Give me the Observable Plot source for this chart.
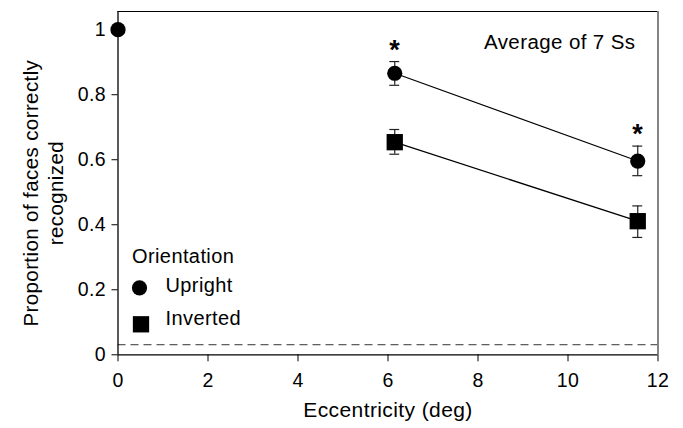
<!DOCTYPE html>
<html>
<head>
<meta charset="utf-8">
<script src="https://cdn.jsdelivr.net/npm/d3@7"></script>
<script src="https://cdn.jsdelivr.net/npm/@observablehq/plot@0.6"></script>
<style>
  html, body { margin: 0; padding: 0; background: #fff; }
  svg { font-family: "Liberation Sans", Arial, Helvetica, sans-serif; }
  svg text { letter-spacing: 0.4px; }
</style>
</head>
<body>
<div id="chart"></div>
<script>
// Data
const orientation = ["Upright", "Upright", "Upright", "Inverted", "Inverted"];
const eccentricity = [0, 6.15, 11.55, 6.15, 11.55];
const proportion = [1.0, 0.866, 0.596, 0.654, 0.411];
const errLow = [null, 0.829, 0.551, 0.617, 0.361];
const errHigh = [null, 0.902, 0.642, 0.693, 0.458];
const significant = [false, true, true, false, false];
const chanceLevel = 0.031;
const xTicks = [0, 2, 4, 6, 8, 10, 12];
const yTicks = [0, 0.2, 0.4, 0.6, 0.8, 1];
const legendItems = ["Upright", "Inverted"];

const rows = orientation.map((o, i) => ({
  o, x: eccentricity[i], y: proportion[i], lo: errLow[i], hi: errHigh[i], sig: significant[i]
}));
const withErr = rows.filter(d => d.lo != null);
const lined = rows.filter(d => d.x > 0);
const capHalf = 0.11;
const rCircle = 7.6;
const rSquare = 9.2;

const plot = Plot.plot({
  width: 683,
  height: 428,
  marginLeft: 117.5,
  marginRight: 25.5,
  marginTop: 11,
  marginBottom: 73.7,
  style: {fontFamily: "Liberation Sans, Arial, Helvetica, sans-serif", fontSize: "19.5px", background: "white"},
  x: {domain: [0, 12]},
  y: {domain: [0, 1.056]},
  symbol: {domain: ["Upright", "Inverted"], range: ["circle", "square"]},
  marks: [
    Plot.ruleY([chanceLevel], {stroke: "#333", strokeDasharray: "8,5", strokeWidth: 1}),
    Plot.ruleY([1.056], {stroke: "black", strokeWidth: 1}),
    Plot.ruleX([12], {stroke: "#777", strokeWidth: 1.8}),
    Plot.axisX({ticks: xTicks, tickSize: 7, tickPadding: 11, fontSize: 19.5, label: null, tickFormat: d => String(d)}),
    Plot.axisY({ticks: yTicks, tickSize: 6, tickPadding: 6, fontSize: 19.5, label: null, tickFormat: d => String(d)}),
    Plot.ruleX([0], {stroke: "black", strokeWidth: 1.3}),
    Plot.ruleY([0], {stroke: "black", strokeWidth: 1.3}),
    Plot.line(lined, {x: "x", y: "y", z: "o", stroke: "black", strokeWidth: 1.2}),
    Plot.ruleX(withErr, {x: "x", y1: "lo", y2: "hi", stroke: "#222", strokeWidth: 1.2}),
    Plot.ruleY(withErr, {y: "lo", x1: d => d.x - capHalf, x2: d => d.x + capHalf, stroke: "#222", strokeWidth: 1.2}),
    Plot.ruleY(withErr, {y: "hi", x1: d => d.x - capHalf, x2: d => d.x + capHalf, stroke: "#222", strokeWidth: 1.2}),
    Plot.dot(rows.filter(d => d.o === "Upright"), {x: "x", y: "y", symbol: "o", r: rCircle, fill: "black", stroke: "none"}),
    Plot.dot(rows.filter(d => d.o === "Inverted"), {x: "x", y: "y", symbol: "o", r: rSquare, fill: "black", stroke: "none"}),
    Plot.text(rows.filter(d => d.sig), {x: "x", y: "hi", text: () => "*", dy: -11.5, fontSize: 27, fontWeight: "bold", fill: "black"}),
    Plot.text(["Average of 7 Ss"], {frameAnchor: "top-right", dx: -22.5, dy: 22.8, textAnchor: "end", fontSize: 20.5, fill: "black"}),
    Plot.text(["Orientation"], {frameAnchor: "bottom-left", dx: 14, dy: -92, textAnchor: "start", fontSize: 20, fill: "black"}),
    Plot.dot([legendItems[0]], {frameAnchor: "bottom-left", dx: 21.5, dy: -67, symbol: d => d, r: rCircle, fill: "black", stroke: "none"}),
    Plot.dot([legendItems[1]], {frameAnchor: "bottom-left", dx: 23, dy: -30.5, symbol: d => d, r: rSquare, fill: "black", stroke: "none"}),
    Plot.text([legendItems[0]], {frameAnchor: "bottom-left", dx: 47.5, dy: -62.6, textAnchor: "start", fontSize: 20, fill: "black"}),
    Plot.text([legendItems[1]], {frameAnchor: "bottom-left", dx: 47.5, dy: -30, textAnchor: "start", fontSize: 20, fill: "black"}),
    Plot.text(["Proportion of faces correctly\nrecognized"], {frameAnchor: "left", rotate: -90, dx: -76, dy: 10, lineHeight: 1.22, textAnchor: "middle", fontSize: 20.5, fill: "black"}),
    Plot.text(["Eccentricity (deg)"], {frameAnchor: "bottom", dy: 62, fontSize: 21, fill: "black"})
  ]
});
document.getElementById("chart").appendChild(plot);
</script>
</body>
</html>
